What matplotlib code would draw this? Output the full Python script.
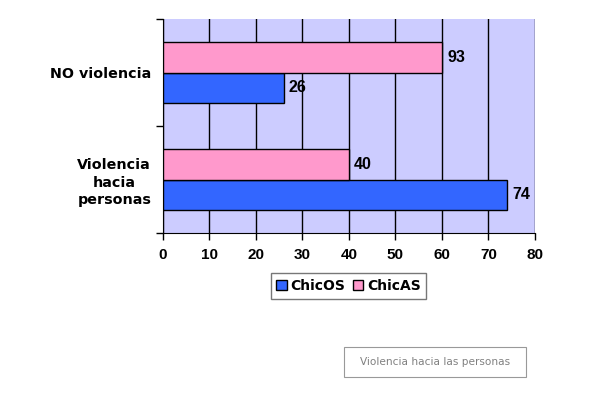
import numpy as np
import matplotlib
matplotlib.use("Agg")
import matplotlib.pyplot as plt
from matplotlib.patches import Rectangle

# datos (de abajo hacia arriba)
categorias = ["Violencia\nhacia\npersonas", "NO violencia"]
chicos = [74, 26]
chicas_barra = [40, 60]      # largo dibujado de la barra
chicas_etiqueta = [40, 93]   # valor que muestra la etiqueta
series = ["ChicOS", "ChicAS"]
xticks = [0, 10, 20, 30, 40, 50, 60, 70, 80]

arial = ['Liberation Sans', 'DejaVu Sans']
verdana = ['DejaVu Sans']

fig = plt.figure(figsize=(5.89, 3.96), dpi=100)
ax = fig.add_axes([0.2767, 0.4116, 0.6316, 0.5404])
ax.set_facecolor('#CCCCFF')

y = np.arange(len(categorias))
h = 0.285
b1 = ax.barh(y - h/2, chicos, height=h, color='#3366FF', edgecolor='black', linewidth=1, label=series[0], zorder=3)
b2 = ax.barh(y + h/2, chicas_barra, height=h, color='#FF99CC', edgecolor='black', linewidth=1, label=series[1], zorder=3)

for i in range(len(categorias)):
    ax.text(chicos[i] + 1.1, y[i] - h/2, str(chicos[i]), va='center', ha='left',
            fontsize=11.5, fontweight='bold', family=arial)
    ax.text(chicas_barra[i] + 1.1, y[i] + h/2, str(chicas_etiqueta[i]), va='center', ha='left',
            fontsize=11.5, fontweight='bold', family=arial)

ax.set_xlim(0, 80)
ax.set_ylim(-0.5, 1.5)
ax.set_xticks(xticks)
ax.set_xticklabels([str(t) for t in xticks], fontsize=11, fontweight='bold', family=arial)
ax.set_yticks([-0.5, 0.5, 1.5])
ax.set_yticklabels([])
ax.set_yticks(y, minor=True)
ax.set_yticklabels(categorias, minor=True, fontsize=10.3, fontweight='bold', family=verdana, linespacing=1.3)
for lab in ax.get_yticklabels(minor=True):
    lab.set_multialignment('center')
ax.tick_params(axis='y', which='minor', length=0, pad=8.5)
ax.tick_params(axis='y', which='major', length=5, width=1, direction='out')
ax.tick_params(axis='x', length=5, width=1, direction='out', pad=6)
ax.xaxis.grid(True, color='black', linewidth=1, zorder=1)
ax.set_axisbelow(True)
ax.spines['top'].set_visible(False)
ax.spines['right'].set_visible(False)

leg = fig.legend(handles=[b1, b2], loc='center', bbox_to_anchor=(0.5917, 0.2778), ncol=2,
                 prop={'weight': 'bold', 'size': 10, 'family': verdana}, frameon=True, fancybox=False,
                 handlelength=0.75, handleheight=0.75, handletextpad=0.3, columnspacing=0.5,
                 borderpad=0.4, borderaxespad=0)
leg.get_frame().set_edgecolor('#555555')
leg.get_frame().set_linewidth(1)

# recuadro con el titulo
fig.patches.append(Rectangle((344/589, 1 - 377/396), 182/589, 30/396, transform=fig.transFigure,
                             facecolor='white', edgecolor='#999999', linewidth=0.8))
fig.text(435/589, 1 - 362/396, "Violencia hacia las personas", ha='center', va='center',
         fontsize=7.6, color='#808080', family=verdana)

fig.savefig('out.png', dpi=100)
